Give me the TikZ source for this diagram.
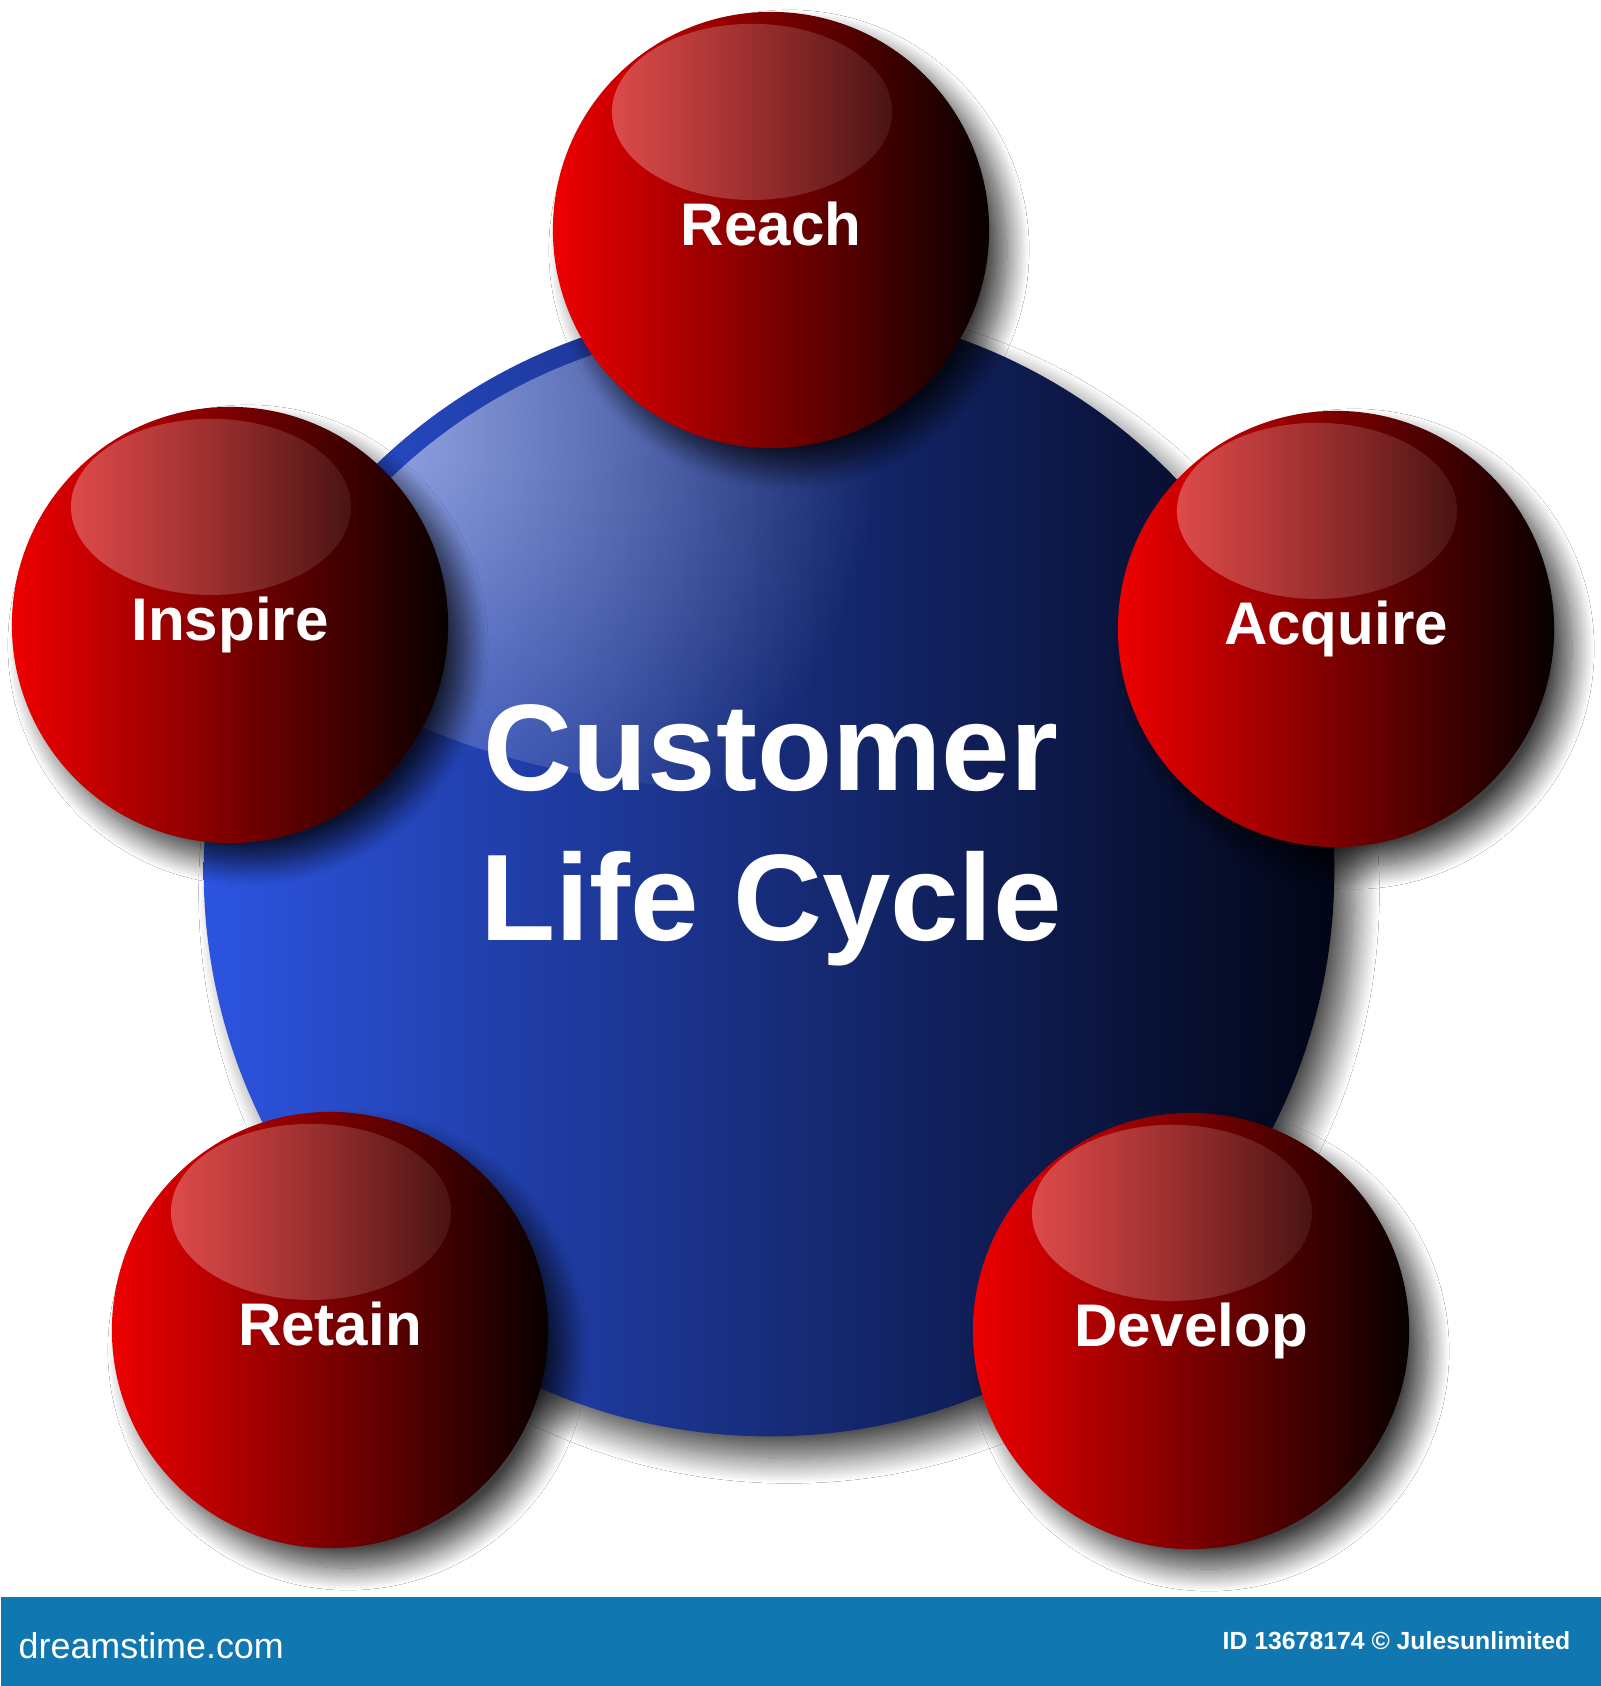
\documentclass[tikz,border=0pt]{standalone}
\usepackage{fontspec}
\setmainfont{Liberation Sans}
\usetikzlibrary{shadows.blur, fadings}

\definecolor{ballred}{RGB}{238,0,0}
\definecolor{ballmid}{RGB}{140,0,2}
\definecolor{ballend}{RGB}{8,0,0}
\definecolor{hubleft}{RGB}{44,84,224}
\definecolor{hubmid}{RGB}{25,45,135}
\definecolor{hubend}{RGB}{2,5,22}
\definecolor{barblue}{RGB}{16,119,176}

\tikzfading[name=glossfade, left color=transparent!25, middle color=transparent!92, right color=transparent!100]
\tikzfading[name=glowfade, inner color=transparent!0, outer color=transparent!100]

\begin{document}
\begin{tikzpicture}[x=0.01cm, y=-0.01cm]
\tikzstyle{hub} = [circle, minimum size=11.3cm, inner sep=0pt, left color=hubleft, middle color=hubmid, right color=hubend, blur shadow={shadow xshift=0.2cm, shadow yshift=-0.22cm, shadow blur radius=0.25cm, shadow opacity=70, shadow blur steps=24}, path picture={\clip (path picture bounding box.center) circle (5.45cm); \fill[white, fill opacity=0.5, path fading=glowfade, fit fading=false, fading transform={shift={([xshift=-3.89cm, yshift=4.41cm]path picture bounding box.center)}, scale=5.7}] ([xshift=-0.09cm, yshift=3.11cm]path picture bounding box.center) ellipse [x radius=4.9cm, y radius=2.3cm];}]
\tikzstyle{ball} = [circle, minimum size=4.36cm, inner sep=0pt, left color=ballred, middle color=ballmid, right color=ballend, text=white, font=\bfseries\fontsize{17.1pt}{20pt}\selectfont, text height=0.43cm, text depth=0.126cm, blur shadow={shadow xshift=0.18cm, shadow yshift=-0.2cm, shadow blur radius=0.22cm, shadow opacity=75, shadow blur steps=24}, path picture={\fill[white, fill opacity=0.45, path fading=glossfade] ([xshift=-0.19cm, yshift=1.18cm]path picture bounding box.center) ellipse [x radius=1.4cm, y radius=0.88cm];}]
\tikzstyle{title} = [text=white, font=\bfseries\fontsize{35pt}{42.7pt}\selectfont, align=center]
\tikzstyle{bar} = [rectangle, fill=barblue, minimum width=16cm, minimum height=0.9cm, inner sep=0pt]
\tikzstyle{credit} = [text=white, inner sep=0pt]

\fill[white] (0,0) rectangle (1600,1686);
\useasboundingbox (0,0) rectangle (1600,1686);

\node [hub] (hub) at (769,871) {};
\node [title] (cycle) at (771,835) {Customer\\Life Cycle};

\node [ball] (reach) at (771,230) {Reach};
\node [ball] (inspire) at (230,625) {Inspire};
\node [ball] (acquire) at (1336,629) {Acquire};
\node [ball] (retain) at (330,1330) {Retain};
\node [ball] (develop) at (1191,1331) {Develop};

\node [bar, anchor=north west] (footer) at (0,1596) {};
\node [credit, anchor=base west, font=\fontsize{10.2pt}{12pt}\selectfont] (site) at (18,1658) {dreamstime.com};
\node [credit, anchor=base east, font=\bfseries\fontsize{7.05pt}{9pt}\selectfont] (owner) at (1571,1649) {ID 13678174 © Julesunlimited};

\end{tikzpicture}
\end{document}
